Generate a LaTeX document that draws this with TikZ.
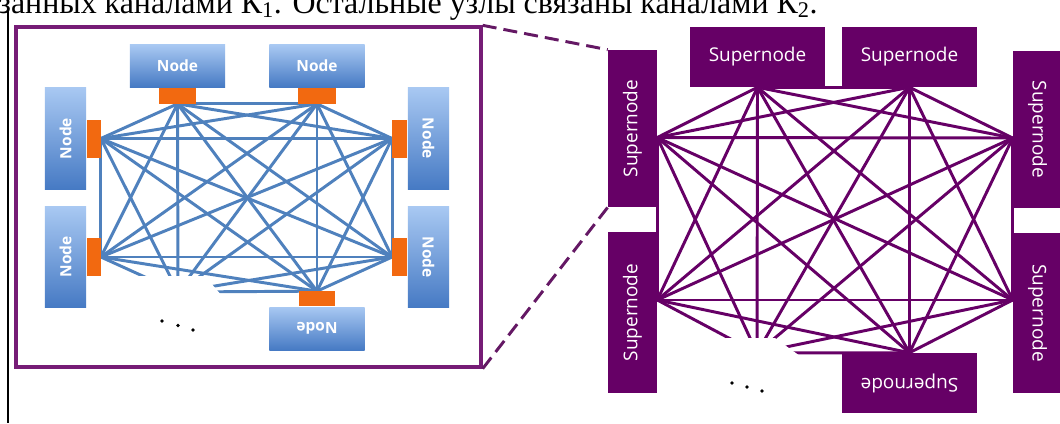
\documentclass[tikz,border=0pt]{standalone}
\usepackage{fontspec}
\setmainfont{Liberation Serif}
\newfontfamily\boxfont{Open Sans}
\usepackage{graphicx}
\usetikzlibrary{positioning}
\pgfdeclarelayer{linkbg}
\pgfsetlayers{linkbg,main}

\definecolor{linkblue}{RGB}{79,129,189}
\definecolor{nodetop}{RGB}{168,200,242}
\definecolor{nodebot}{RGB}{70,122,196}
\definecolor{portorange}{RGB}{242,105,16}
\definecolor{superpurple}{RGB}{102,0,102}
\definecolor{framepurple}{RGB}{118,28,118}

\begin{document}
\begin{tikzpicture}[x=0.025cm, y=-0.025cm,
	blubox/.style={rectangle, inner sep=0pt, top color=nodetop, bottom color=nodebot, text=white, font=\boxfont\bfseries\fontsize{11}{13}\selectfont},
	port/.style={rectangle, inner sep=0pt, fill=portorange},
	superbox/.style={rectangle, inner sep=0pt, fill=superpurple, text=white, font=\boxfont\fontsize{13.5}{16}\selectfont},
	bluelink/.style={draw=linkblue, line width=2.1pt},
	purplelink/.style={draw=superpurple, line width=2.1pt}]
	\useasboundingbox (0,0) rectangle (1060,423);
	\clip (0,0) rectangle (1060,423);
	\node [anchor=base east, inner sep=0pt, font=\fontsize{22.7}{26}\selectfont] (caption) at (818,13) {связанных каналами К\textsubscript{1}. Остальные узлы связаны каналами К\textsubscript{2}.};
	\draw [line width=1pt] (8,10) -- (8,423);
	
	% left panel: nodes of one supernode
	\node [draw=framepurple, line width=2.3pt, minimum width=11.625cm, minimum height=8.5cm] (zoombox) at (248.5,197) {};
	\node [blubox, minimum width=2.375cm, minimum height=1.05cm] (nT1) at (177.5,66) {Node}; \node [blubox, minimum width=2.375cm, minimum height=1.05cm] (nT2) at (317,66) {Node};
	\node [port, minimum width=0.925cm, minimum height=0.4cm, below=0pt of nT1] (pT1) {}; \node [port, minimum width=0.925cm, minimum height=0.4cm, below=0pt of nT2] (pT2) {};
	\node [blubox, minimum width=1.025cm, minimum height=2.525cm] (nL1) at (65.5,138.5) {\rotatebox{90}{Node}}; \node [blubox, minimum width=1.025cm, minimum height=2.5cm] (nL2) at (65.5,257) {\rotatebox{90}{Node}};
	\node [port, minimum width=0.35cm, minimum height=0.95cm, right=0pt of nL1] (pL1) {}; \node [port, minimum width=0.35cm, minimum height=0.95cm, right=0pt of nL2] (pL2) {};
	\node [blubox, minimum width=1.025cm, minimum height=2.525cm] (nR1) at (428.5,138.5) {\rotatebox{-90}{Node}}; \node [blubox, minimum width=1.025cm, minimum height=2.5cm] (nR2) at (428.5,257) {\rotatebox{-90}{Node}};
	\node [port, minimum width=0.375cm, minimum height=0.95cm, left=0pt of nR1] (pR1) {}; \node [port, minimum width=0.375cm, minimum height=0.95cm, left=0pt of nR2] (pR2) {};
	\node [blubox, minimum width=2.375cm, minimum height=1.075cm] (nB) at (317,328.5) {\rotatebox{180}{Node}};
	\node [port, minimum width=0.9cm, minimum height=0.375cm, above=0pt of nB] (pB) {};
	\coordinate (h1) at (178,292);
	\fill (162,321) circle (1.8) (178,325.5) circle (1.8) (193,330) circle (1.8);
	
	% right panel: supernodes
	\node [superbox, minimum width=3.375cm, minimum height=1.5cm] (sT1) at (757.5,57) {Supernode}; \node [superbox, minimum width=3.375cm, minimum height=1.5cm] (sT2) at (909.5,57) {Supernode};
	\node [superbox, minimum width=1.225cm, minimum height=3.925cm] (sL1) at (632.5,128.5) {\rotatebox{90}{Supernode}}; \node [superbox, minimum width=1.225cm, minimum height=4.025cm] (sL2) at (632.5,312.5) {\rotatebox{90}{Supernode}};
	\node [superbox, minimum width=1.225cm, minimum height=3.925cm] (sR1) at (1037.5,129.5) {\rotatebox{-90}{Supernode}}; \node [superbox, minimum width=1.225cm, minimum height=4cm] (sR2) at (1037.5,313) {\rotatebox{-90}{Supernode}};
	\node [superbox, minimum width=3.375cm, minimum height=1.5cm] (sB) at (909.5,383) {\rotatebox{180}{Supernode}};
	\coordinate (cL1) at ([yshift=-0.225cm]sL1.east); \coordinate (cL2) at ([yshift=0.3125cm]sL2.east);
	\coordinate (cR1) at ([yshift=-0.2125cm]sR1.west); \coordinate (cR2) at ([yshift=0.325cm]sR2.west);
	\coordinate (h2) at (757,353);
	\fill (732,383) circle (1.8) (747,387) circle (1.8) (762,391) circle (1.8);
	
	\draw [framepurple!85!black, line width=2.1pt, dash pattern=on 10pt off 5pt] (zoombox.north east) -- (sL1.north west) (zoombox.south east) -- (sL1.south west);
	
	\begin{pgfonlayer}{linkbg}
	\fill [white] (0,0) rectangle (1060,423);
	\path [bluelink] (pT1.south) edge (pT2.south) edge (pL1.east) edge (pL2.east) edge (pR1.west) edge (pR2.west) edge (pB.north) edge (h1);
	\path [bluelink] (pT2.south) edge (pL1.east) edge (pL2.east) edge (pR1.west) edge (pR2.west) edge (pB.north) edge (h1);
	\path [bluelink] (pL1.east) edge (pL2.east) edge (pR1.west) edge (pR2.west) edge (pB.north) edge (h1);
	\path [bluelink] (pL2.east) edge (pR1.west) edge (pR2.west) edge (pB.north) edge (h1);
	\path [bluelink] (pR1.west) edge (pR2.west) edge (pB.north) edge (h1);
	\path [bluelink] (pR2.west) edge (pB.north) edge (h1); \path [bluelink] (pB.north) edge (h1);
	\fill [white] (128,276) -- (205,276) -- (222,296) -- (128,300) -- cycle;
	
	\path [purplelink] (sT1.south) edge (sT2.south) edge (cL1) edge (cL2) edge (cR1) edge (cR2) edge (sB.north) edge (h2);
	\path [purplelink] (sT2.south) edge (cL1) edge (cL2) edge (cR1) edge (cR2) edge (sB.north) edge (h2);
	\path [purplelink] (cL1) edge (cL2) edge (cR1) edge (cR2) edge (sB.north) edge (h2);
	\path [purplelink] (cL2) edge (cR1) edge (cR2) edge (sB.north) edge (h2);
	\path [purplelink] (cR1) edge (cR2) edge (sB.north) edge (h2);
	\path [purplelink] (cR2) edge (sB.north) edge (h2); \path [purplelink] (sB.north) edge (h2);
	\fill [white] (700,338) -- (775,338) -- (800,356) -- (700,368) -- cycle;
	\end{pgfonlayer}
\end{tikzpicture}
\end{document}
